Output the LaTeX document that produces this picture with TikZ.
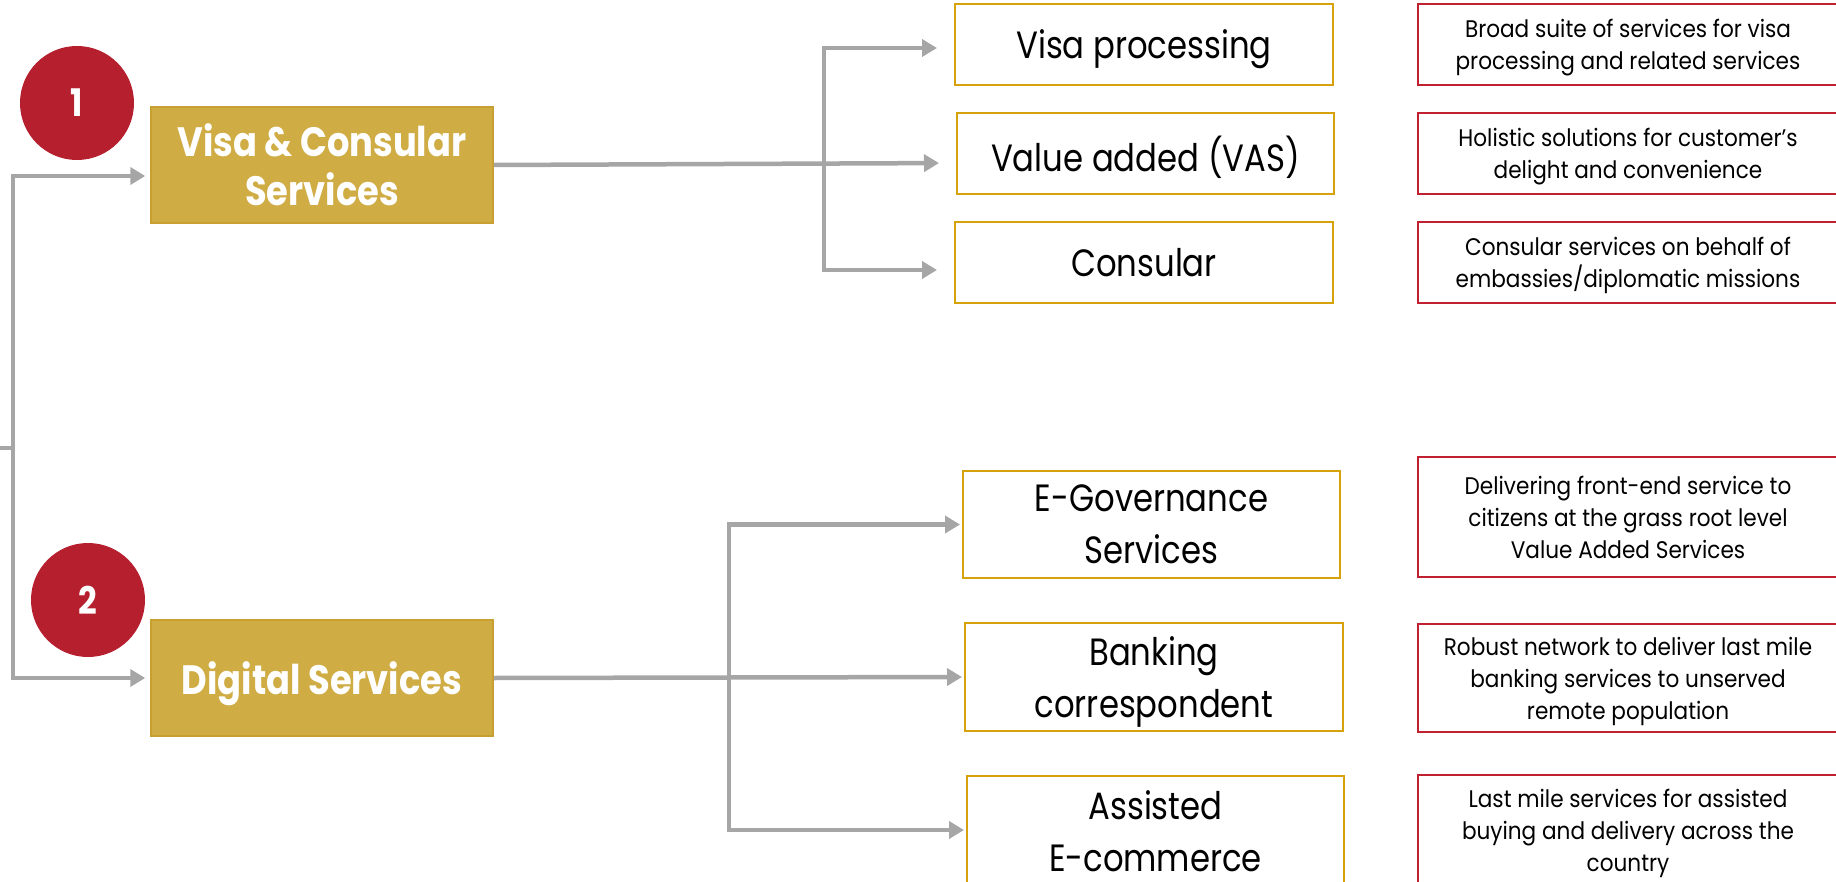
\documentclass[tikz,border=0pt]{standalone}
\usepackage{fontspec}
\setmainfont{Poppins}
\newfontfamily\headfont{Poppins}[FakeStretch=0.86]
\newfontfamily\itemfont{Poppins}[FakeStretch=0.85]
\newfontfamily\notefont{Poppins}[FakeStretch=0.9]
\usetikzlibrary{arrows.meta}
\definecolor{gold}{RGB}{207,172,68}
\definecolor{goldedge}{RGB}{200,160,50}
\definecolor{boxedge}{RGB}{214,162,10}
\definecolor{crimson}{RGB}{181,31,46}
\definecolor{descedge}{RGB}{192,32,47}
\definecolor{connector}{RGB}{166,166,166}
% a line whose descenders do not count towards the node's depth
\newcommand\flatline[1]{\raisebox{0pt}[\height][0pt]{#1}}
\begin{document}
\begin{tikzpicture}[x=1pt,y=-1pt,
  mainbox/.style={draw=goldedge, line width=1.5pt, fill=gold, minimum width=342pt, minimum height=116pt,
    text=white, font=\headfont\fontsize{41}{49}\selectfont\bfseries, align=center, inner sep=0pt},
  badge/.style={circle, fill=crimson, minimum size=114pt, text=white,
    font=\headfont\fontsize{38}{40}\selectfont\bfseries, inner sep=0pt},
  subbox/.style={draw=boxedge, line width=2pt, align=center, font=\itemfont\fontsize{38}{52}\selectfont, inner sep=0pt},
  descbox/.style={draw=descedge, line width=2.2pt, minimum width=420pt, align=center,
    font=\notefont\fontsize{24}{32}\selectfont, inner sep=0pt},
  link/.style={draw=connector, line width=4.5pt},
  arrow/.style={link, -{Triangle[length=15pt,width=17pt]}},
]
\useasboundingbox (0,0) rectangle (1836,882);
\clip (0,0) rectangle (1836,882);

% top-level services
\node[mainbox] (vc) at (322,165) {Visa \& Consular\\Services};
\node[mainbox] (ds) at (322,678) {\flatline{Digital Services}};
\node[badge] (b1) at (77,103) {1};
\node[badge] (b2) at (88,600) {2};

% visa & consular offerings
\node[subbox, minimum width=378pt, minimum height=81pt] (vp) at (1144,44.5) {\flatline{Visa processing}};
\node[subbox, minimum width=377pt, minimum height=81pt] (va) at (1145.5,153.5) {\flatline{Value added (VAS)}};
\node[subbox, minimum width=378pt, minimum height=81pt] (co) at (1144,262.5) {Consular};

% digital offerings
\node[subbox, minimum width=377pt, minimum height=107pt] (eg) at (1151.5,524.5) {E-Governance\\Services};
\node[subbox, minimum width=378pt, minimum height=108pt] (bc) at (1154,677) {Banking\\\flatline{correspondent}};
\node[subbox, minimum width=377pt, minimum height=110pt] (ae) at (1155.5,831) {Assisted\\E-commerce};

% descriptions
\node[descbox, minimum height=81pt] (d1) at (1628,44.5) {Broad suite of services for visa\\\flatline{processing and related services}};
\node[descbox, minimum height=81pt] (d2) at (1628,153.5) {Holistic solutions for customer’s\\\flatline{delight and convenience}};
\node[descbox, minimum height=81pt] (d3) at (1628,262.5) {Consular services on behalf of\\\flatline{embassies/diplomatic missions}};
\node[descbox, minimum height=120pt] (d4) at (1628,517) {Delivering front-end service to\\citizens at the grass root level\\Value Added Services};
\node[descbox, minimum height=108pt] (d5) at (1628,678) {Robust network to deliver last mile\\banking services to unserved\\\flatline{remote population}};
\node[descbox, minimum height=110pt] (d6) at (1628,830) {Last mile services for assisted\\buying and delivery across the\\\flatline{country}};

% root spine
\coordinate (root) at (0,448);
\coordinate (spine) at (13,448);
\draw[link] (root) -- (spine);
\draw[arrow, shorten >=5pt] (spine) |- ([yshift=-11pt]vc.west);
\draw[arrow, shorten >=5pt] (spine) |- (ds.west);

% visa & consular branch
\coordinate (j1) at (824,164);
\draw[arrow, shorten >=17pt] (vc.east) -- ([yshift=-9.5pt]va.west);
\draw[arrow, shorten >=17pt] (j1) |- ([yshift=-3.5pt]vp.west);
\draw[arrow, shorten >=17pt] (j1) |- ([yshift=-7.5pt]co.west);

% digital branch
\coordinate (j2) at (729,677);
\draw[arrow, shorten >=2pt] (ds.east) -- (bc.west);
\draw[arrow, shorten >=2pt] (j2) |- (eg.west);
\draw[arrow, shorten >=2pt] (j2) |- ([yshift=1pt]ae.west);
\end{tikzpicture}
\end{document}
